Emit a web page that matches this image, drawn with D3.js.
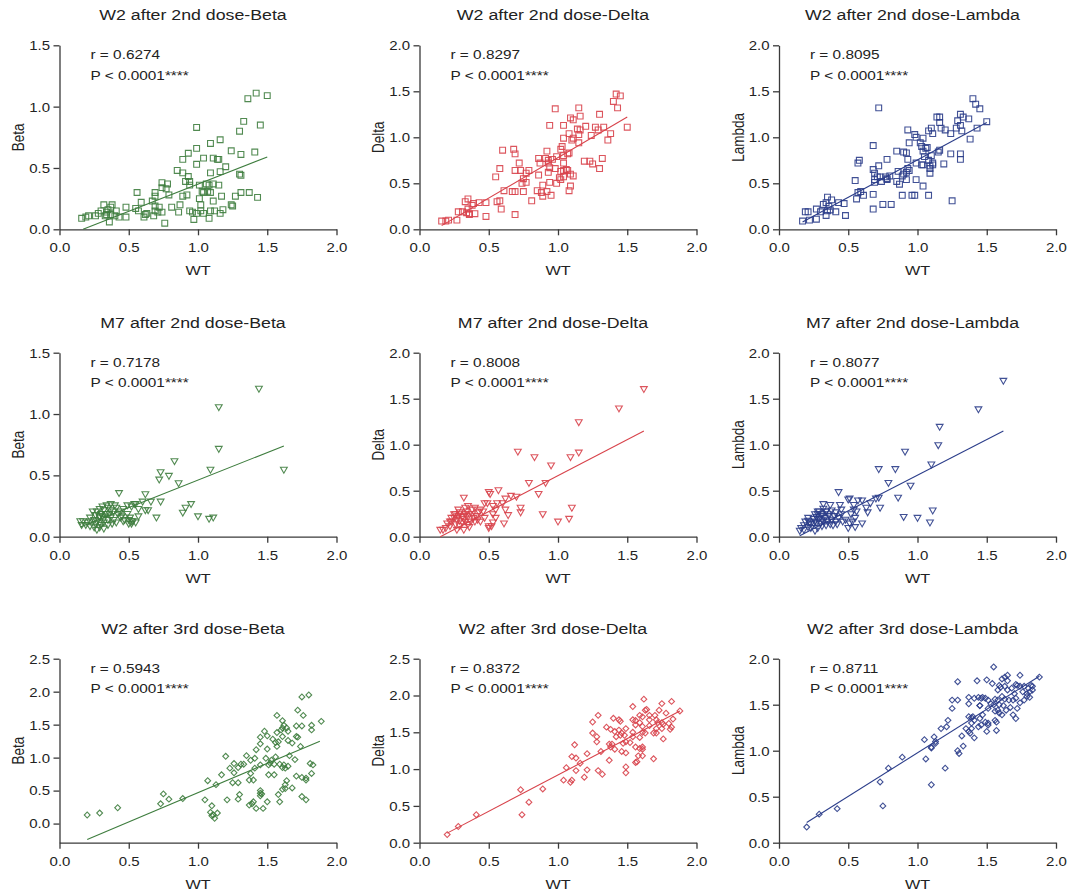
<!DOCTYPE html>
<html>
<head>
<meta charset="utf-8">
<script src="https://cdn.jsdelivr.net/npm/d3@7"></script>
<style>
  body { margin: 0; background: #fff; }
  svg text { font-family: Arial, "Liberation Sans", sans-serif; fill: #222; }
</style>
</head>
<body>
<svg id="chart" width="1072" height="894"></svg>
<script>
// values, [WT, variant]
const w2d2Beta = [[1.36,1.065],[1.42,1.11],[1.50,1.09],[1.33,0.88],[1.45,0.85],[1.30,0.80],[0.99,0.83],[1.16,0.73],[1.09,0.70],[0.99,0.66],[0.93,0.62],[1.24,0.64],[1.31,0.61],[1.41,0.63],[0.89,0.57],[1.04,0.58],[1.11,0.58],[1.14,0.57],[1.15,0.57],[1.20,0.51],[0.85,0.48],[0.89,0.46],[0.99,0.53],[1.09,0.46],[1.16,0.47],[1.30,0.45],[1.31,0.44],[0.93,0.43],[0.94,0.39],[0.91,0.39],[0.94,0.36],[1.01,0.36],[1.06,0.37],[1.08,0.36],[1.11,0.37],[1.15,0.36],[0.74,0.38],[0.78,0.37],[0.74,0.34],[0.77,0.33],[0.56,0.30],[0.69,0.30],[0.79,0.28],[0.92,0.28],[0.89,0.27],[1.03,0.31],[1.04,0.30],[1.07,0.31],[1.09,0.30],[1.01,0.25],[1.02,0.20],[1.11,0.23],[1.17,0.27],[1.27,0.27],[1.31,0.30],[1.37,0.30],[1.43,0.26],[1.24,0.20],[1.25,0.19],[0.69,0.27],[0.67,0.23],[0.59,0.22],[0.55,0.17],[0.69,0.19],[0.72,0.18],[0.81,0.18],[0.87,0.20],[0.48,0.18],[0.32,0.20],[0.38,0.20],[0.37,0.18],[0.35,0.16],[0.41,0.15],[0.57,0.15],[0.62,0.12],[0.69,0.15],[0.71,0.14],[0.74,0.14],[0.86,0.14],[0.94,0.15],[0.96,0.14],[1.02,0.15],[1.09,0.15],[1.12,0.15],[1.18,0.16],[1.16,0.13],[1.04,0.13],[0.99,0.13],[0.97,0.08],[1.08,0.09],[0.76,0.05],[0.61,0.10],[0.68,0.11],[0.48,0.10],[0.43,0.10],[0.36,0.06],[0.34,0.12],[0.33,0.11],[0.28,0.13],[0.26,0.11],[0.21,0.11],[0.19,0.10],[0.16,0.09],[0.30,0.15],[0.40,0.11],[0.37,0.12],[0.34,0.14],[0.63,0.13]];
const w2d2Delta = [[1.42,1.47],[1.45,1.45],[1.40,1.39],[1.43,1.32],[0.98,1.31],[1.15,1.32],[1.16,1.23],[1.30,1.25],[0.94,1.13],[1.04,1.13],[1.09,1.21],[1.11,1.19],[1.14,1.09],[1.16,1.08],[1.20,1.12],[1.27,1.11],[1.29,1.08],[1.33,1.11],[1.50,1.11],[1.38,1.04],[1.36,0.97],[1.15,1.03],[1.24,1.02],[1.08,1.04],[1.04,0.99],[1.03,0.90],[1.02,0.87],[1.10,0.97],[1.11,0.99],[1.15,0.94],[1.08,0.83],[1.07,0.82],[0.92,0.85],[0.86,0.77],[0.91,0.77],[0.93,0.75],[0.96,0.76],[0.99,0.79],[1.04,0.80],[0.87,0.72],[0.93,0.72],[1.04,0.72],[1.19,0.74],[1.23,0.74],[1.25,0.71],[1.32,0.77],[1.30,0.66],[0.68,0.87],[0.60,0.86],[0.69,0.82],[0.72,0.72],[0.73,0.64],[0.69,0.64],[0.58,0.66],[0.79,0.64],[0.77,0.61],[0.86,0.59],[0.93,0.62],[0.94,0.67],[0.98,0.66],[1.04,0.64],[1.02,0.63],[1.06,0.65],[1.07,0.64],[1.09,0.60],[1.11,0.58],[1.04,0.57],[1.01,0.56],[1.02,0.54],[0.55,0.57],[0.75,0.55],[0.74,0.50],[0.77,0.51],[0.94,0.51],[0.99,0.50],[0.89,0.48],[1.09,0.47],[0.67,0.41],[0.69,0.41],[0.75,0.41],[0.85,0.42],[0.92,0.41],[0.88,0.40],[1.08,0.42],[0.61,0.42],[0.89,0.36],[0.95,0.37],[0.81,0.31],[0.56,0.30],[0.58,0.31],[0.48,0.29],[0.43,0.29],[0.39,0.28],[0.35,0.33],[0.33,0.30],[0.28,0.19],[0.31,0.19],[0.34,0.18],[0.35,0.22],[0.36,0.17],[0.40,0.17],[0.36,0.16],[0.59,0.22],[0.69,0.16],[0.48,0.14],[0.27,0.10],[0.21,0.10],[0.19,0.09],[0.16,0.09],[0.38,0.26]];
const w2d2Lambda = [[1.40,1.42],[1.42,1.36],[1.45,1.31],[0.72,1.32],[1.14,1.22],[1.16,1.22],[1.31,1.25],[1.33,1.22],[1.37,1.20],[1.16,1.16],[1.29,1.18],[1.28,1.10],[1.31,1.13],[1.32,1.07],[1.43,1.10],[1.50,1.17],[1.17,1.10],[1.10,1.10],[1.08,1.07],[0.93,1.08],[0.98,1.03],[1.11,1.04],[1.20,1.08],[1.24,1.04],[1.04,0.99],[0.99,1.00],[0.94,0.94],[1.02,0.94],[1.38,0.98],[0.68,0.91],[1.07,0.89],[1.06,0.88],[1.03,0.90],[1.04,0.85],[0.90,0.84],[0.92,0.83],[0.85,0.85],[1.16,0.86],[1.15,0.84],[1.24,0.82],[1.31,0.82],[1.31,0.76],[1.10,0.80],[1.08,0.75],[1.05,0.79],[0.93,0.76],[0.58,0.75],[0.57,0.72],[0.78,0.76],[0.72,0.69],[0.99,0.72],[1.03,0.70],[1.04,0.70],[1.11,0.72],[1.11,0.70],[1.19,0.71],[1.09,0.69],[0.68,0.65],[0.69,0.61],[0.93,0.66],[0.94,0.64],[0.92,0.62],[0.90,0.60],[0.86,0.63],[0.89,0.58],[0.71,0.57],[0.73,0.57],[0.77,0.57],[0.78,0.55],[0.80,0.58],[0.78,0.54],[0.69,0.54],[0.69,0.51],[0.74,0.52],[1.09,0.61],[1.09,0.66],[0.99,0.54],[0.85,0.52],[0.92,0.54],[0.87,0.49],[1.04,0.47],[0.55,0.53],[0.57,0.40],[0.59,0.41],[0.61,0.37],[0.68,0.38],[0.56,0.33],[0.75,0.27],[0.81,0.27],[0.89,0.37],[0.96,0.37],[0.98,0.37],[1.08,0.37],[1.25,0.31],[0.68,0.22],[0.35,0.35],[0.34,0.29],[0.38,0.32],[0.32,0.27],[0.36,0.25],[0.37,0.21],[0.35,0.20],[0.41,0.19],[0.43,0.29],[0.47,0.28],[0.48,0.15],[0.30,0.19],[0.27,0.22],[0.21,0.19],[0.19,0.19],[0.22,0.10],[0.17,0.09],[0.27,0.11],[0.34,0.15]];
const m7d2Beta = [[1.44,1.21],[1.15,1.06],[1.15,0.72],[1.09,0.55],[1.62,0.55],[0.83,0.62],[0.73,0.53],[0.72,0.47],[0.79,0.50],[0.86,0.44],[0.43,0.36],[0.62,0.35],[0.73,0.29],[0.66,0.29],[0.60,0.29],[0.95,0.27],[0.91,0.24],[0.89,0.20],[1.00,0.17],[0.70,0.16],[1.08,0.15],[1.11,0.16],[0.62,0.22],[0.64,0.22],[0.57,0.23],[0.57,0.17],[0.54,0.27],[0.52,0.25],[0.55,0.27],[0.49,0.26],[0.46,0.23],[0.49,0.19],[0.50,0.14],[0.52,0.13],[0.55,0.12],[0.52,0.11],[0.50,0.11],[0.46,0.13],[0.44,0.16],[0.42,0.19],[0.41,0.24],[0.37,0.27],[0.35,0.24],[0.34,0.26],[0.32,0.22],[0.29,0.23],[0.27,0.21],[0.24,0.21],[0.37,0.22],[0.36,0.19],[0.33,0.19],[0.30,0.19],[0.29,0.16],[0.32,0.15],[0.35,0.14],[0.39,0.14],[0.41,0.12],[0.38,0.11],[0.35,0.10],[0.32,0.12],[0.29,0.12],[0.27,0.13],[0.25,0.14],[0.22,0.13],[0.20,0.12],[0.17,0.13],[0.15,0.13],[0.16,0.10],[0.19,0.10],[0.22,0.09],[0.25,0.08],[0.27,0.06],[0.29,0.08],[0.32,0.07],[0.30,0.10],[0.26,0.11],[0.34,0.19],[0.29,0.17],[0.31,0.17],[0.45,0.17],[0.39,0.21],[0.40,0.26],[0.31,0.25],[0.22,0.16],[0.26,0.18],[0.37,0.16],[0.44,0.21],[0.47,0.14],[0.51,0.16],[0.53,0.13]];
const m7d2Delta = [[1.62,1.61],[1.44,1.40],[1.15,1.25],[1.15,0.92],[1.09,0.87],[0.71,0.93],[0.83,0.87],[0.95,0.78],[0.79,0.59],[0.91,0.59],[0.86,0.47],[0.57,0.51],[0.50,0.49],[0.51,0.47],[0.32,0.43],[0.70,0.44],[0.66,0.45],[0.62,0.42],[0.49,0.37],[0.47,0.37],[0.60,0.37],[0.73,0.32],[0.73,0.27],[1.10,0.32],[0.89,0.25],[1.00,0.17],[1.08,0.20],[0.61,0.15],[0.64,0.24],[0.62,0.30],[0.55,0.30],[0.53,0.34],[0.56,0.37],[0.53,0.25],[0.55,0.21],[0.53,0.16],[0.50,0.12],[0.50,0.10],[0.52,0.12],[0.44,0.30],[0.43,0.27],[0.41,0.23],[0.40,0.17],[0.38,0.30],[0.35,0.34],[0.34,0.28],[0.33,0.25],[0.31,0.22],[0.29,0.25],[0.28,0.30],[0.27,0.19],[0.25,0.21],[0.23,0.17],[0.22,0.17],[0.20,0.15],[0.19,0.10],[0.17,0.08],[0.15,0.08],[0.22,0.12],[0.26,0.14],[0.27,0.08],[0.29,0.12],[0.31,0.16],[0.33,0.17],[0.35,0.14],[0.32,0.08],[0.36,0.11],[0.37,0.17],[0.39,0.21],[0.29,0.18],[0.28,0.23],[0.32,0.20],[0.34,0.23],[0.36,0.25],[0.40,0.32],[0.46,0.28],[0.47,0.21],[0.44,0.17],[0.25,0.25],[0.26,0.25],[0.29,0.27],[0.33,0.32],[0.38,0.25],[0.42,0.19],[0.23,0.21]];
const m7d2Lambda = [[1.62,1.70],[1.44,1.39],[1.16,1.20],[1.15,1.00],[0.91,0.93],[1.10,0.79],[0.72,0.74],[0.84,0.74],[0.79,0.59],[0.95,0.56],[0.43,0.49],[0.86,0.43],[0.72,0.43],[0.73,0.32],[0.70,0.42],[0.57,0.40],[0.60,0.40],[0.51,0.42],[0.50,0.41],[0.66,0.37],[0.63,0.32],[0.64,0.27],[0.56,0.28],[0.54,0.35],[0.54,0.30],[0.52,0.25],[0.55,0.21],[0.53,0.17],[0.55,0.11],[0.50,0.10],[0.51,0.15],[0.60,0.15],[0.90,0.22],[1.00,0.21],[1.11,0.29],[1.09,0.16],[0.44,0.35],[0.45,0.30],[0.37,0.35],[0.32,0.36],[0.45,0.25],[0.43,0.21],[0.46,0.17],[0.42,0.14],[0.40,0.23],[0.38,0.19],[0.36,0.25],[0.34,0.28],[0.31,0.25],[0.28,0.28],[0.26,0.25],[0.25,0.20],[0.27,0.22],[0.29,0.20],[0.31,0.19],[0.33,0.21],[0.35,0.17],[0.32,0.17],[0.30,0.15],[0.27,0.16],[0.25,0.15],[0.22,0.16],[0.21,0.18],[0.19,0.17],[0.18,0.13],[0.16,0.10],[0.15,0.07],[0.18,0.08],[0.21,0.11],[0.23,0.10],[0.26,0.07],[0.28,0.10],[0.31,0.12],[0.34,0.13],[0.37,0.14],[0.39,0.13],[0.23,0.14],[0.26,0.17],[0.36,0.23],[0.31,0.23],[0.28,0.25],[0.34,0.28],[0.38,0.29],[0.41,0.27],[0.32,0.31],[0.29,0.28],[0.41,0.17],[0.48,0.19],[0.21,0.21]];
const w2d3Beta = [[1.80,1.95],[1.75,1.92],[1.72,1.72],[1.76,1.64],[1.57,1.64],[1.61,1.56],[1.89,1.55],[1.71,1.48],[1.75,1.48],[1.82,1.49],[1.82,1.42],[1.62,1.49],[1.64,1.45],[1.61,1.45],[1.60,1.42],[1.57,1.38],[1.65,1.40],[1.48,1.40],[1.45,1.31],[1.50,1.33],[1.61,1.32],[1.71,1.32],[1.72,1.31],[1.54,1.28],[1.56,1.23],[1.58,1.24],[1.65,1.26],[1.68,1.22],[1.45,1.21],[1.74,1.17],[1.57,1.17],[1.42,1.12],[1.50,1.13],[1.35,1.03],[1.41,0.99],[1.49,0.99],[1.20,1.02],[1.56,1.01],[1.66,1.03],[1.70,0.97],[1.38,0.96],[1.45,0.89],[1.53,0.96],[1.55,0.90],[1.59,0.90],[1.62,0.89],[1.65,0.87],[1.51,0.89],[1.52,0.92],[1.26,0.91],[1.31,0.90],[1.33,0.90],[1.61,0.85],[1.63,0.84],[1.81,0.91],[1.83,0.89],[1.23,0.84],[1.29,0.85],[1.41,0.84],[1.51,0.74],[1.55,0.74],[1.17,0.74],[1.26,0.77],[1.38,0.76],[1.82,0.76],[1.71,0.72],[1.75,0.70],[1.78,0.69],[1.78,0.66],[1.07,0.65],[1.25,0.62],[1.29,0.62],[1.37,0.66],[1.40,0.66],[1.64,0.65],[1.63,0.59],[1.68,0.54],[1.61,0.52],[1.63,0.53],[1.45,0.50],[1.45,0.46],[1.58,0.44],[1.13,0.59],[1.30,0.44],[1.45,0.42],[1.46,0.45],[1.29,0.37],[1.21,0.36],[1.05,0.36],[1.40,0.33],[1.39,0.30],[1.37,0.28],[1.42,0.23],[1.50,0.33],[1.47,0.23],[1.59,0.33],[1.75,0.41],[1.78,0.36],[1.10,0.27],[1.09,0.17],[1.10,0.12],[1.11,0.13],[1.14,0.16],[1.12,0.08],[0.75,0.45],[0.73,0.30],[0.79,0.37],[0.89,0.38],[0.42,0.24],[0.29,0.16],[0.20,0.13]];
const w2d3Delta = [[1.62,1.95],[1.82,1.92],[1.75,1.89],[1.54,1.85],[1.88,1.79],[1.29,1.73],[1.63,1.80],[1.64,1.81],[1.59,1.73],[1.61,1.71],[1.73,1.80],[1.78,1.76],[1.70,1.73],[1.66,1.73],[1.54,1.67],[1.56,1.66],[1.40,1.69],[1.44,1.67],[1.45,1.65],[1.25,1.64],[1.66,1.67],[1.71,1.67],[1.72,1.63],[1.75,1.63],[1.76,1.61],[1.83,1.68],[1.80,1.62],[1.59,1.63],[1.56,1.60],[1.61,1.58],[1.66,1.59],[1.35,1.57],[1.38,1.54],[1.82,1.57],[1.81,1.54],[1.75,1.55],[1.71,1.55],[1.49,1.55],[1.44,1.53],[1.41,1.51],[1.46,1.49],[1.48,1.46],[1.63,1.49],[1.69,1.49],[1.71,1.49],[1.25,1.49],[1.54,1.50],[1.61,1.50],[1.45,1.46],[1.42,1.44],[1.28,1.44],[1.59,1.43],[1.54,1.44],[1.76,1.41],[1.28,1.37],[1.52,1.36],[1.39,1.34],[1.37,1.34],[1.38,1.30],[1.47,1.35],[1.49,1.37],[1.12,1.33],[1.56,1.30],[1.61,1.30],[1.41,1.27],[1.46,1.24],[1.49,1.22],[1.59,1.28],[1.61,1.27],[1.21,1.21],[1.31,1.24],[1.58,1.18],[1.61,1.18],[1.10,1.17],[1.13,1.15],[1.69,1.14],[1.37,1.12],[1.16,1.08],[1.56,1.09],[1.57,1.10],[1.06,1.02],[1.49,1.03],[1.13,0.98],[1.21,0.99],[1.29,0.98],[1.32,0.93],[1.49,0.95],[1.19,0.89],[1.04,0.85],[1.10,0.85],[1.09,0.82],[0.73,0.72],[0.89,0.73],[0.79,0.55],[0.74,0.38],[0.41,0.38],[0.28,0.22],[0.20,0.11]];
const w2d3Lambda = [[1.55,1.91],[1.74,1.82],[1.65,1.82],[1.88,1.80],[1.29,1.75],[1.43,1.76],[1.50,1.77],[1.61,1.78],[1.63,1.80],[1.65,1.76],[1.54,1.73],[1.71,1.72],[1.72,1.71],[1.74,1.70],[1.77,1.70],[1.82,1.71],[1.59,1.71],[1.63,1.70],[1.60,1.69],[1.58,1.66],[1.65,1.66],[1.68,1.68],[1.80,1.68],[1.83,1.66],[1.83,1.70],[1.81,1.64],[1.76,1.64],[1.70,1.62],[1.79,1.62],[1.71,1.57],[1.79,1.59],[1.81,1.58],[1.74,1.52],[1.77,1.55],[1.61,1.59],[1.63,1.56],[1.66,1.55],[1.69,1.55],[1.58,1.55],[1.56,1.56],[1.49,1.57],[1.46,1.57],[1.41,1.57],[1.25,1.55],[1.29,1.55],[1.37,1.58],[1.44,1.58],[1.47,1.58],[1.51,1.55],[1.53,1.51],[1.55,1.50],[1.45,1.49],[1.45,1.49],[1.59,1.50],[1.62,1.49],[1.67,1.47],[1.72,1.46],[1.64,1.44],[1.58,1.44],[1.25,1.46],[1.37,1.51],[1.51,1.46],[1.59,1.41],[1.61,1.39],[1.69,1.39],[1.71,1.35],[1.56,1.43],[1.22,1.33],[1.37,1.37],[1.39,1.36],[1.40,1.37],[1.47,1.39],[1.45,1.35],[1.41,1.33],[1.49,1.31],[1.51,1.30],[1.39,1.30],[1.51,1.28],[1.56,1.33],[1.57,1.31],[1.46,1.28],[1.35,1.24],[1.21,1.26],[1.17,1.24],[1.39,1.24],[1.44,1.26],[1.38,1.19],[1.41,1.14],[1.37,1.21],[1.50,1.21],[1.57,1.22],[1.32,1.16],[1.12,1.15],[1.05,1.12],[1.13,1.10],[1.13,1.08],[1.10,1.04],[1.10,1.03],[1.33,1.05],[1.29,1.00],[1.30,0.97],[0.89,0.93],[1.06,0.91],[0.79,0.81],[1.20,0.81],[0.73,0.66],[1.10,0.63],[0.75,0.40],[0.42,0.37],[0.29,0.31],[0.20,0.17]];

// regression lines as drawn: [[x start, y start], [x end, y end]]
const fitLines = [
  [[0.17, 0.00], [1.50, 0.59]], [[0.16, 0.04], [1.50, 1.22]], [[0.17, 0.08], [1.50, 1.16]],
  [[0.15, 0.08], [1.62, 0.74]], [[0.15, 0.00], [1.62, 1.15]], [[0.15, 0.01], [1.62, 1.15]],
  [[0.20, -0.24], [1.88, 1.25]], [[0.20, 0.13], [1.88, 1.79]], [[0.20, 0.22], [1.88, 1.81]]
];

const titles = [
  'W2 after 2nd dose-Beta', 'W2 after 2nd dose-Delta', 'W2 after 2nd dose-Lambda',
  'M7 after 2nd dose-Beta', 'M7 after 2nd dose-Delta', 'M7 after 2nd dose-Lambda',
  'W2 after 3rd dose-Beta', 'W2 after 3rd dose-Delta', 'W2 after 3rd dose-Lambda'
];
const rValues = ['0.6274', '0.8297', '0.8095', '0.7178', '0.8008', '0.8077', '0.5943', '0.8372', '0.8711'];
const pText = 'P < 0.0001****';
const variants = ['Beta', 'Delta', 'Lambda'];
const seriesData = [w2d2Beta, w2d2Delta, w2d2Lambda, m7d2Beta, m7d2Delta, m7d2Lambda, w2d3Beta, w2d3Delta, w2d3Lambda];
const yDomains = [[0, 1.5], [0, 2], [0, 2], [0, 1.5], [0, 2], [0, 2], [-0.29, 2.5], [0, 2.5], [0, 2]];
const yTickTops = [1.5, 2, 2, 1.5, 2, 2, 2.5, 2.5, 2];
const xTicks = [0, 0.5, 1, 1.5, 2];

const variantColors = ['#3e7d3e', '#d8434b', '#2b3d8a'];
const rowShapes = ['square', 'triangle', 'diamond'];

// layout
const SX = 1.2; // text in the reference is stretched horizontally
const colLeft = [59.5, 419.5, 779], rowTop = [45.3, 352.7, 658.7];
const PW = 277, PH = 184;
const AXIS_COLOR = '#3a3a3a';

const svg = d3.select('#chart');
const fmt = d3.format('.1f');

function addText(g, x, y, txt, size, anchor, rot) {
  return g.append('text')
    .attr('transform', `translate(${x},${y}) scale(${SX},1)` + (rot ? ` rotate(${rot})` : ''))
    .attr('text-anchor', anchor)
    .attr('font-size', size + 'px')
    .text(txt);
}

function markerPath(shape) {
  if (shape === 'square') return d3.symbol(d3.symbolSquare, 34)();
  if (shape === 'triangle') return d3.symbol(d3.symbolTriangle, 20)();
  return d3.symbol(d3.symbolSquare, 17)();
}
function markerRotate(shape) {
  return shape === 'triangle' ? 180 : shape === 'diamond' ? 45 : 0;
}

seriesData.forEach((data, i) => {
  const row = Math.floor(i / 3), col = i % 3;
  const color = variantColors[col], shape = rowShapes[row];
  const g = svg.append('g').attr('transform', `translate(${colLeft[col]},${rowTop[row]})`);

  const x = d3.scaleLinear().domain([0, 2]).range([0, PW]);
  const y = d3.scaleLinear().domain(yDomains[i]).range([PH, 0]);
  const yTicks = d3.range(0, yTickTops[i] + 0.01, 0.5);

  // axes
  const xAxis = g.append('g').attr('transform', `translate(0,${PH})`)
    .call(d3.axisBottom(x).tickValues(xTicks).tickFormat(fmt).tickSize(6).tickSizeOuter(0));
  const yAxis = g.append('g')
    .call(d3.axisLeft(y).tickValues(yTicks).tickFormat(fmt).tickSize(6).tickSizeOuter(0));
  [xAxis, yAxis].forEach(a => {
    a.select('.domain').attr('stroke', AXIS_COLOR).attr('stroke-width', 1.3);
    a.selectAll('.tick line').attr('stroke', AXIS_COLOR).attr('stroke-width', 1.3);
    a.selectAll('.tick text').attr('fill', '#222').attr('font-size', '12.5px')
      .attr('font-family', 'Arial, "Liberation Sans", sans-serif');
  });
  xAxis.selectAll('.tick text').attr('y', 0).attr('dy', 0)
    .attr('transform', `translate(0,23) scale(${SX},1)`);
  yAxis.selectAll('.tick text').attr('x', 0).attr('dy', '0.35em')
    .attr('transform', `translate(-9.5,0) scale(${SX},1)`);

  // regression line
  const fit = fitLines[i];
  g.append('line')
    .attr('x1', x(fit[0][0])).attr('y1', y(fit[0][1]))
    .attr('x2', x(fit[1][0])).attr('y2', y(fit[1][1]))
    .attr('stroke', color).attr('stroke-width', 1.1);

  // points
  const d = markerPath(shape), rot = markerRotate(shape);
  g.append('g').selectAll('path').data(data).join('path')
    .attr('d', d)
    .attr('transform', p => `translate(${x(p[0])},${y(p[1])}) rotate(${rot})`)
    .attr('fill', 'none')
    .attr('stroke', color)
    .attr('stroke-width', 1.1)
    .attr('opacity', 0.9);

  // texts
  addText(g, PW / 2 - 5, -25, titles[i], 14.8, 'middle');
  addText(g, 31, 14, 'r = ' + rValues[i], 12.8, 'start');
  addText(g, 31, 34.5, pText, 12.8, 'start');
  addText(g, PW / 2, PH + 46, 'WT', 13.5, 'middle');
  addText(g, -41, PH / 2, variants[col], 13.5, 'middle', -90).attr('dy', '0.35em');
});
</script>
</body>
</html>
